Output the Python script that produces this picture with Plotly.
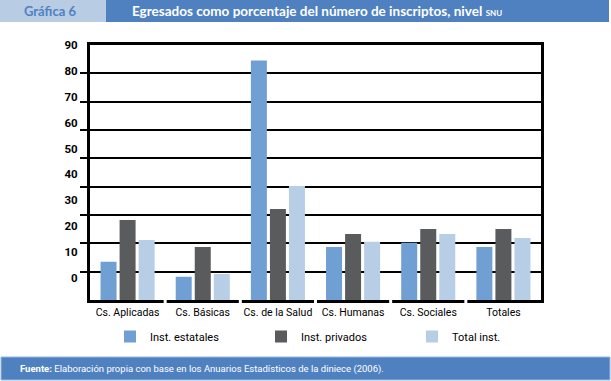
import plotly.graph_objects as go

categories = ["Cs. Aplicadas", "Cs. Básicas", "Cs. de la Salud", "Cs. Humanas", "Cs. Sociales", "Totales"]
estatales = [13.5, 8.2, 84.5, 18.7, 20.2, 18.7]
privados = [28.2, 18.7, 32.1, 23.3, 25.1, 25.1]
total_inst = [21.2, 9.2, 40.2, 20.6, 23.3, 21.9]
series_names = ["Inst. estatales", "Inst. privados", "Total inst."]
tick_labels = [0, 10, 20, 30, 40, 50, 60, 70, 80, 90]

colors = ["#6f9fd3", "#5a5b5d", "#b8cde6"]
NARROW = "Liberation Sans Narrow, Arial Narrow, Roboto, sans-serif"
HEAD = "Lato, Noto Sans, sans-serif"

W, H = 611, 381
L, R, T, B = 90, 70, 45, 81
pw, ph = W - L - R, H - T - B


def px_x(p):
    return (p - L) / pw


def px_y(q):
    return (H - B - q) / ph


fig = go.Figure()
legend_ids = ["legend", "legend2", "legend3"]
for name, vals, c, lg in zip(series_names, [estatales, privados, total_inst], colors, legend_ids):
    fig.add_trace(go.Bar(x=categories, y=vals, name=name, legend=lg,
                         marker=dict(color=c, line=dict(width=0))))

# helper trace for the label axis
fig.add_trace(go.Scatter(x=[categories[0]], y=[None], yaxis="y2", showlegend=False, hoverinfo="skip"))

leg_common = dict(orientation="h", yanchor="top", xanchor="left", bgcolor="rgba(0,0,0,0)",
                  font=dict(family=NARROW, size=11, color="black"), itemwidth=30)

fig.update_layout(
    width=W, height=H,
    margin=dict(l=L, r=R, t=T, b=B, pad=0),
    paper_bgcolor="white", plot_bgcolor="white",
    barmode="group", bargap=0.24, bargroupgap=0.16,
    xaxis=dict(
        showline=True, linecolor="black", linewidth=3, mirror=True,
        ticks="", showgrid=False, tickangle=0,
        tickfont=dict(family=NARROW, size=10.5, color="black"),
    ),
    yaxis=dict(
        range=[0, 90], showline=True, linecolor="black", linewidth=3, mirror=True,
        showgrid=True, gridcolor="black", gridwidth=1.5,
        tickvals=[10, 20, 30, 40, 50, 60, 70, 80],
        ticks="outside", ticklen=7, tickcolor="black", tickwidth=1.5,
        showticklabels=False, zeroline=False, fixedrange=True,
    ),
    yaxis2=dict(
        overlaying="y", side="left", range=[-8.5, 90],
        tickvals=tick_labels, ticktext=[str(v) for v in tick_labels],
        showgrid=False, zeroline=False, showline=False,
        ticks="outside", ticklen=9, tickcolor="rgba(0,0,0,0)",
        tickfont=dict(family=NARROW, size=11.5, color="black", weight="bold"),
    ),
    legend=dict(x=px_x(110), y=px_y(322), **leg_common),
    legend2=dict(x=px_x(261), y=px_y(322), **leg_common),
    legend3=dict(x=px_x(412), y=px_y(322), **leg_common),
    showlegend=True,
)

shapes = [
    dict(type="rect", xref="paper", yref="paper", x0=px_x(0), x1=px_x(106), y0=px_y(0), y1=px_y(22),
         fillcolor="#b8cce4", line=dict(width=0), layer="below"),
    dict(type="rect", xref="paper", yref="paper", x0=px_x(106), x1=px_x(609), y0=px_y(0), y1=px_y(22),
         fillcolor="#4f81c1", line=dict(width=0), layer="below"),
    dict(type="rect", xref="paper", yref="paper", x0=px_x(1), x1=px_x(610), y0=px_y(357), y1=px_y(380),
         fillcolor="#4f81c1", line=dict(color="#9bb7dc", width=1), layer="below"),
]
# small breaks in the bottom axis line between categories
for i in range(len(categories) - 1):
    shapes.append(dict(type="line", xref="x", yref="paper", x0=i + 0.5, x1=i + 0.5,
                       y0=-0.012, y1=0.012, line=dict(color="white", width=3), layer="above"))
fig.update_layout(shapes=shapes)

annotations = [
    dict(text="<b>Gráfica 6</b>", xref="paper", yref="paper", x=px_x(50), y=px_y(11),
         xanchor="center", yanchor="middle", showarrow=False,
         font=dict(family=HEAD, size=13, color="#4f81c1")),
    dict(text="<b>Egresados como porcentaje del número de inscriptos, nivel</b> <b><span style='font-size:8px'>SNU</span></b>",
         xref="paper", yref="paper", x=px_x(130), y=px_y(11),
         xanchor="left", yanchor="middle", showarrow=False,
         font=dict(family=HEAD, size=13.5, color="white")),
    dict(text="<b>Fuente:</b> Elaboración propia con base en los Anuarios Estadísticos de la diniece (2006).",
         xref="paper", yref="paper", x=px_x(18), y=px_y(369),
         xanchor="left", yanchor="middle", showarrow=False,
         font=dict(family=NARROW, size=9.5, color="white")),
]
fig.update_layout(annotations=annotations)

fig.write_html("out.html", config=dict(displayModeBar=False),
               post_script="document.body.style.margin='0';document.body.style.overflow='hidden';")
